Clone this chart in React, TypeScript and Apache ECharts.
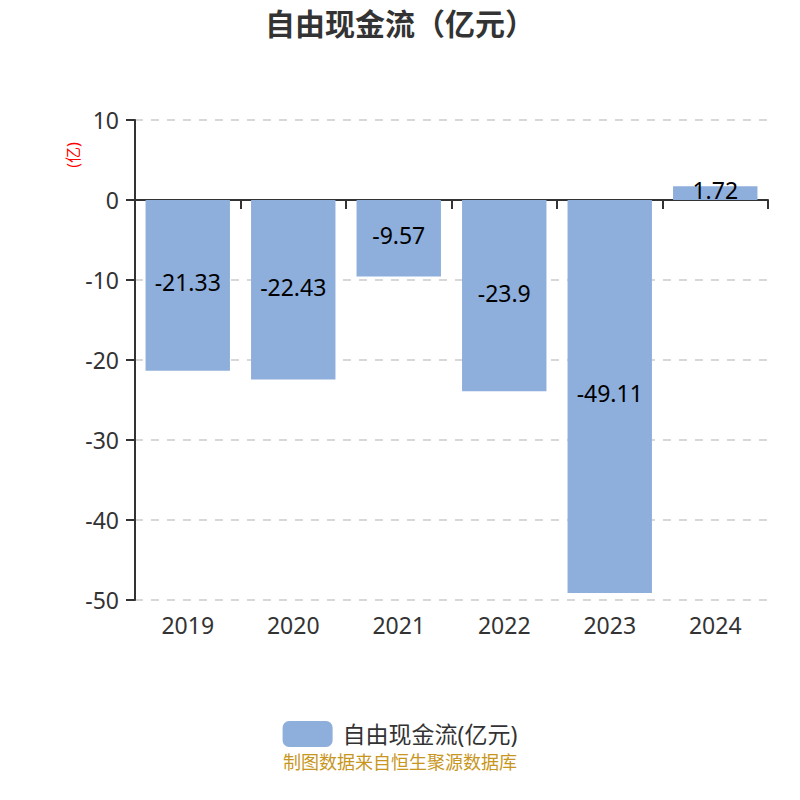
import { useEffect, useRef } from "react";
import * as echarts from "echarts";

const years = ["2019", "2020", "2021", "2022", "2023", "2024"];
const freeCashFlow = [-21.33, -22.43, -9.57, -23.9, -49.11, 1.72];
const seriesName = "自由现金流(亿元)";

const FONT = "'Noto Sans', 'Noto Sans CJK SC', sans-serif";

export default function App() {
  const ref = useRef<HTMLDivElement | null>(null);

  useEffect(() => {
    document.body.style.margin = "0";
    if (!ref.current) return;
    const chart = echarts.init(ref.current, undefined, { renderer: "svg" });

    const option: echarts.EChartsOption = {
      animation: false,
      backgroundColor: "#ffffff",
      textStyle: { fontFamily: FONT },
      title: {
        text: "自由现金流（亿元）",
        left: "center",
        top: 3,
        textStyle: { fontSize: 30, fontWeight: "bold", color: "#333", fontFamily: FONT }
      },
      grid: { left: 135, right: 32, top: 120, bottom: 200 },
      legend: {
        top: 716,
        left: "center",
        itemWidth: 50,
        itemHeight: 26,
        icon: "roundRect",
        textStyle: { fontSize: 23, color: "#333", fontFamily: FONT, padding: [0, 0, 0, 5] },
        data: [seriesName]
      },
      graphic: [
        {
          type: "text",
          x: 73,
          y: 155,
          rotation: Math.PI / 2,
          style: {
            text: "(亿)",
            fill: "#ff0000",
            fontSize: 16,
            fontFamily: FONT,
            align: "center",
            verticalAlign: "middle"
          }
        },
        {
          type: "text",
          left: "center",
          top: 753,
          style: { text: "制图数据来自恒生聚源数据库", fill: "#c8961e", fontSize: 18, fontFamily: FONT }
        }
      ],
      xAxis: [
        {
          type: "category",
          data: years,
          axisLine: { onZero: true, lineStyle: { color: "#333", width: 2 } },
          axisTick: { show: true, length: 9, lineStyle: { color: "#333", width: 2 } },
          axisLabel: { show: false }
        },
        {
          type: "category",
          data: years,
          position: "bottom",
          axisLine: { show: false, onZero: false },
          axisTick: { show: false },
          axisLabel: { fontSize: 23, color: "#333", margin: 13, fontFamily: FONT }
        }
      ],
      yAxis: {
        type: "value",
        min: -50,
        max: 10,
        interval: 10,
        axisLine: { show: true, lineStyle: { color: "#333", width: 2 } },
        axisTick: { show: true, length: 9, lineStyle: { color: "#333", width: 2 } },
        axisLabel: { fontSize: 23, color: "#333", margin: 16, fontFamily: FONT },
        splitLine: { lineStyle: { color: "#ccc", type: [8, 8], width: 1.5 } }
      },
      series: [
        {
          type: "bar",
          name: seriesName,
          data: freeCashFlow,
          xAxisIndex: 0,
          barWidth: "80%",
          itemStyle: { color: "#8eaedb" },
          label: {
            show: true,
            position: "inside",
            offset: [0, -3],
            fontSize: 23,
            color: "#000",
            fontFamily: FONT
          }
        }
      ]
    };

    chart.setOption(option);
    return () => {
      chart.dispose();
    };
  }, []);

  return <div ref={ref} style={{ width: 800, height: 800 }} />;
}
